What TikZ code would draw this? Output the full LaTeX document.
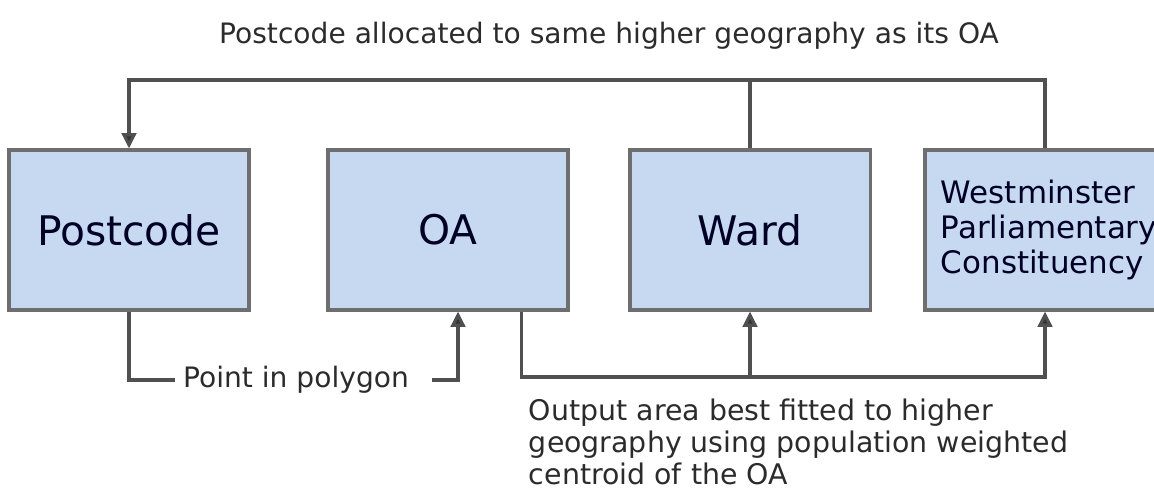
\documentclass[tikz,border=0pt]{standalone}
\usepackage{fontspec}
\setmainfont{DejaVu Sans}
\usetikzlibrary{arrows.meta}
\definecolor{boxfill}{HTML}{C6D9F1}
\definecolor{boxline}{HTML}{6E6E6E}
\definecolor{linkgray}{HTML}{505050}
\definecolor{labeltext}{HTML}{2B2B2B}
\begin{document}
\begin{tikzpicture}[x=0.025cm, y=-0.025cm,
    geobox/.style={draw=boxline, line width=2.2pt, fill=boxfill, minimum width=6cm, minimum height=4cm, text=black!85!blue, font=\fontsize{29}{35}\selectfont},
    link/.style={draw=linkgray, line width=2.2pt},
    tip/.style={-{Triangle[length=0.38cm, width=0.36cm, fill=black!80]}},
    note/.style={text=labeltext, font=\fontsize{20}{22}\selectfont}]
    \useasboundingbox (0,0) rectangle (1154,492);
    \clip (0,0) rectangle (1154,492);

    % Geography boxes
    \node[geobox] (pc) at (129,230) {Postcode};
    \node[geobox] (oa) at (448,230) {OA};
    \node[geobox] (ward) at (750,230) {Ward};
    \node[geobox, text width=5.2cm, align=left, inner xsep=0.4cm, font=\fontsize{22}{25}\selectfont] (wpc) at (1045,230) {Westminster\\Parliamentary\\Constituency\\[0.2cm]};

    % Allocation back to the postcode
    \coordinate (top) at (0,80);
    \node[note] (toptxt) at (609,36) {Postcode allocated to same higher geography as its OA};
    \draw[link, tip] (wpc.north) |- (top -| pc.north) -- (pc.north);
    \draw[link] (ward.north) -- (ward.north |- top);

    % Point in polygon
    \node[note, inner xsep=0.2cm] (pip) at (296,380) {Point in polygon};
    \draw[link] (pc.south) |- (pip.west);
    \draw[link, tip] ([xshift=0.38cm]pip.east) -| ([xshift=0.25cm]oa.south);

    % Best fit from the OA
    \coordinate (low) at (0,377);
    \draw[link, tip] ([xshift=-1.2cm]oa.south east) |- (low -| wpc.south) -- (wpc.south);
    \draw[link, tip] (ward.south |- low) -- (ward.south);
    \node[note, anchor=north west, align=left, font=\fontsize{20.2}{22.6}\selectfont] (fit) at (524,394) {Output area best fitted to higher\\geography using population weighted\\centroid of the OA};
\end{tikzpicture}
\end{document}
